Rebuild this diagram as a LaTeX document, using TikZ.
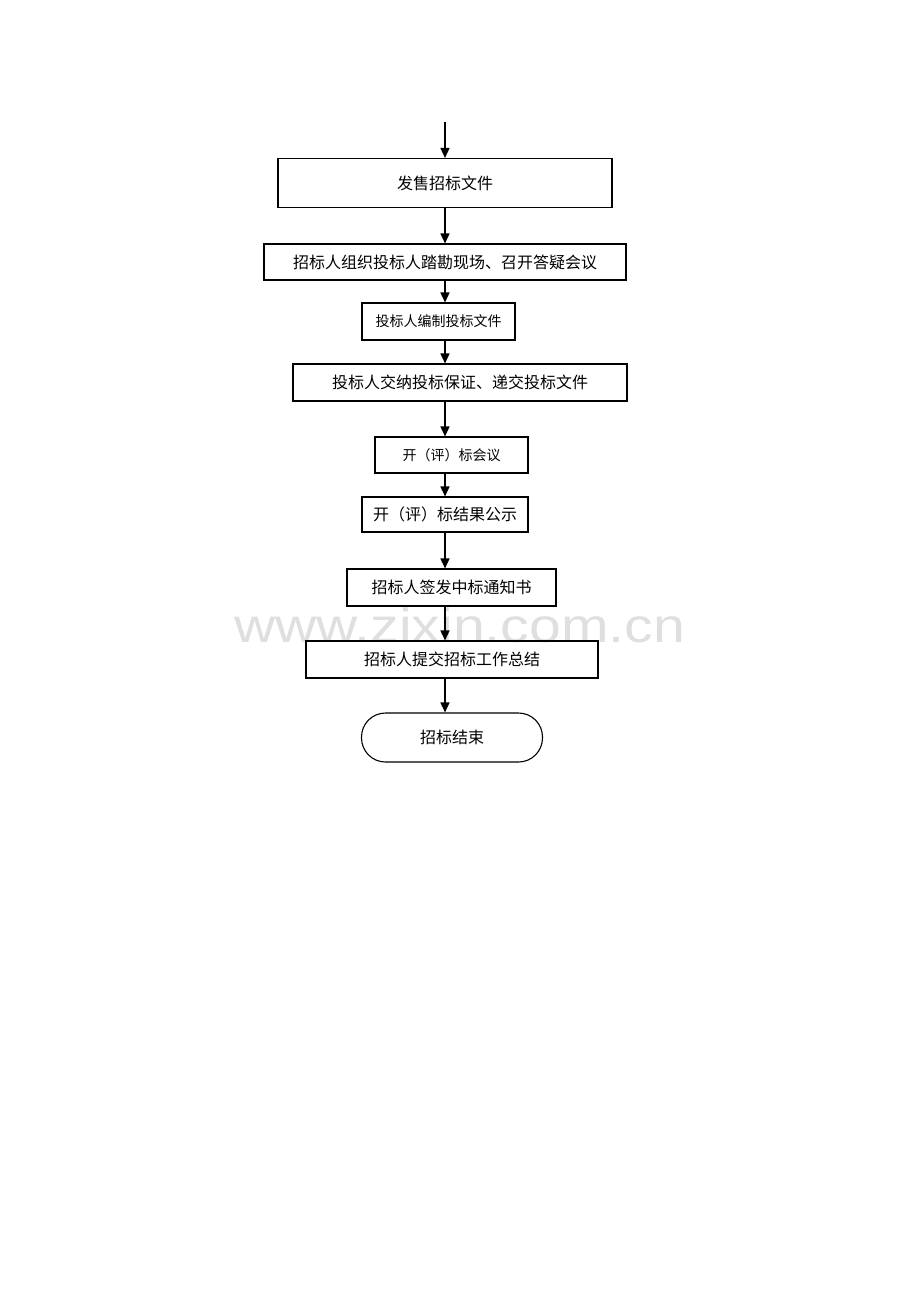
\documentclass[tikz,border=0pt]{standalone}
\usepackage{fontspec}
\usepackage{tikz}
\usepackage{xcolor}
\usetikzlibrary{arrows.meta}
\newfontfamily\cjk{Noto Sans CJK SC}
\newfontfamily\wmfont{Liberation Sans}
\definecolor{wmgray}{HTML}{DFDFDF}
\def\colx{445}

\begin{document}
\begin{tikzpicture}[x=0.5pt, y=-0.5pt,
    every node/.style={font=\cjk\fontsize{8}{10}\selectfont},
    box/.style={draw, line width=0.55pt, inner sep=0pt, minimum height=18.5pt},
    smallbox/.style={box, font=\cjk\fontsize{7}{9}\selectfont},
    endbox/.style={box, rounded corners=12pt, minimum height=24.5pt},
    arr/.style={-{Triangle[length=5pt, width=4.5pt]}, line width=0.75pt}]
    \useasboundingbox (0,0) rectangle (920,1302);
    \node[text=wmgray, anchor=base, xscale=1.19, font=\wmfont\fontsize{24}{26}\selectfont] (wmark) at (459.5,642) {www.zixin.com.cn};

    \coordinate (start) at (\colx,122);
    \node[box, minimum width=167pt, minimum height=24.5pt] (sale) at (445,183) {发售招标文件};
    \node[box, minimum width=181pt, minimum height=18pt] (visit) at (445,262) {招标人组织投标人踏勘现场、召开答疑会议};
    \node[smallbox, minimum width=76.5pt] (prepare) at (438.5,321.5) {投标人编制投标文件};
    \node[box, minimum width=167pt] (submit) at (460,382.5) {投标人交纳投标保证、递交投标文件};
    \node[smallbox, minimum width=76.5pt, minimum height=18pt] (open) at (451.5,455) {开（评）标会议};
    \node[box, minimum width=83pt, minimum height=17.5pt] (publish) at (445,514.5) {开（评）标结果公示};
    \node[box, minimum width=104.5pt] (notice) at (451.5,587.5) {招标人签发中标通知书};
    \node[box, minimum width=146pt] (report) at (452,659.5) {招标人提交招标工作总结};
    \node[endbox, minimum width=90.5pt] (finish) at (452,737.5) {招标结束};

    \draw[arr] (start) -- (start |- sale.north);
    \draw[arr] (start |- sale.south) -- (start |- visit.north);
    \draw[arr] (start |- visit.south) -- (start |- prepare.north);
    \draw[arr] (start |- prepare.south) -- (start |- submit.north);
    \draw[arr] (start |- submit.south) -- (start |- open.north);
    \draw[arr] (start |- open.south) -- (start |- publish.north);
    \draw[arr] (start |- publish.south) -- (start |- notice.north);
    \draw[arr] (start |- notice.south) -- (start |- report.north);
    \draw[arr] (start |- report.south) -- (start |- finish.north);
\end{tikzpicture}
\end{document}
